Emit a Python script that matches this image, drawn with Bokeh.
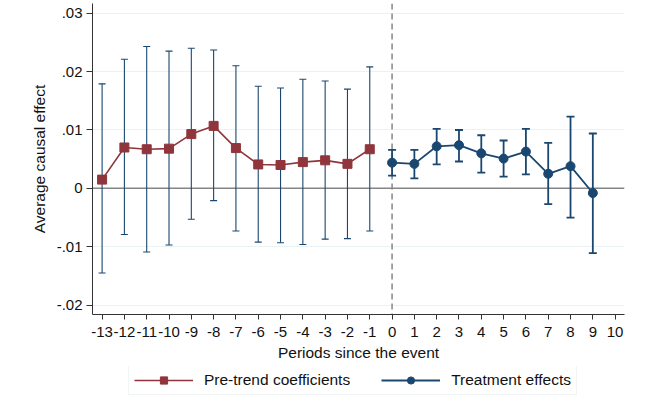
from bokeh.plotting import figure
from bokeh.layouts import column
from bokeh.models import (ColumnDataSource, Whisker, TeeHead, Span, FixedTicker,
                          Legend, LegendItem, Range1d)
from bokeh.embed import file_html
from bokeh.resources import INLINE

# ---- data ----
pre_periods = [-13, -12, -11, -10, -9, -8, -7, -6, -5, -4, -3, -2, -1]
pre_coef = [0.0015, 0.0070, 0.0067, 0.0068, 0.0093, 0.0107, 0.0069,
            0.0041, 0.0040, 0.0045, 0.0048, 0.0042, 0.0067]
pre_upper = [0.0179, 0.0221, 0.0243, 0.0235, 0.0240, 0.0237, 0.0210,
             0.0175, 0.0172, 0.0187, 0.0184, 0.0170, 0.0208]
pre_lower = [-0.0145, -0.0079, -0.0109, -0.0097, -0.0053, -0.0021, -0.0073,
             -0.0092, -0.0093, -0.0096, -0.0087, -0.0086, -0.0073]

post_periods = [0, 1, 2, 3, 4, 5, 6, 7, 8, 9]
post_coef = [0.0044, 0.0042, 0.0072, 0.0074, 0.0060, 0.0051, 0.0063,
             0.0025, 0.0038, -0.0008]
post_upper = [0.0066, 0.0066, 0.0102, 0.0100, 0.0091, 0.0082, 0.0102,
              0.0078, 0.0123, 0.0094]
post_lower = [0.0022, 0.0017, 0.0041, 0.0046, 0.0027, 0.0020, 0.0024,
              -0.0027, -0.0050, -0.0111]

x_ticks = list(range(-13, 11))
x_tick_labels = [str(t) for t in x_ticks]
y_ticks = [-0.02, -0.01, 0.0, 0.01, 0.02, 0.03]
y_tick_labels = ["-.02", "-.01", "0", ".01", ".02", ".03"]
series_names = ["Pre-trend coefficients", "Treatment effects"]

RED = "#90353B"
NAVY = "#1A476F"
FONT = "Liberation Sans"

pre_src = ColumnDataSource(dict(x=pre_periods, y=pre_coef, upper=pre_upper, lower=pre_lower))
post_src = ColumnDataSource(dict(x=post_periods, y=post_coef, upper=post_upper, lower=post_lower))

p = figure(width=642, height=366, output_backend="svg", toolbar_location=None,
           x_range=Range1d(-13.43, 10.42), y_range=Range1d(-0.0216, 0.03166),
           min_border_left=92, min_border_right=18, min_border_top=3,
           min_border_bottom=52)
p.outline_line_color = None
p.background_fill_color = "white"
p.border_fill_color = "white"

# grid
p.xgrid.grid_line_color = None
p.ygrid.grid_line_color = "#EAF2F3"
p.ygrid.grid_line_width = 1
p.ygrid.ticker = FixedTicker(ticks=[t for t in y_ticks if t != 0])

# reference lines
zero = Span(location=0, dimension="width", line_color="#858585", line_width=1.5, level="underlay")
event = Span(location=0, dimension="height", line_color="#858585", line_width=1.5,
             line_dash="6 4", level="underlay")
p.add_layout(zero)
p.add_layout(event)

# error bars
w_pre = Whisker(base="x", upper="upper", lower="lower", source=pre_src,
                line_color=NAVY, line_width=1.1, level="underlay",
                upper_head=TeeHead(size=7, line_color=NAVY, line_width=1.1),
                lower_head=TeeHead(size=7, line_color=NAVY, line_width=1.1))
w_post = Whisker(base="x", upper="upper", lower="lower", source=post_src,
                 line_color=NAVY, line_width=1.8, level="underlay",
                 upper_head=TeeHead(size=8, line_color=NAVY, line_width=1.8),
                 lower_head=TeeHead(size=8, line_color=NAVY, line_width=1.8))
p.add_layout(w_pre)
p.add_layout(w_post)

# series
p.line("x", "y", source=pre_src, line_color=RED, line_width=1.6)
p.scatter("x", "y", source=pre_src, marker="square", size=9,
          fill_color=RED, line_color=RED)
p.line("x", "y", source=post_src, line_color=NAVY, line_width=1.8)
p.scatter("x", "y", source=post_src, marker="circle", size=9,
          fill_color=NAVY, line_color=NAVY)

# axes
p.xaxis.ticker = FixedTicker(ticks=x_ticks)
p.xaxis.major_label_overrides = {t: s for t, s in zip(x_ticks, x_tick_labels)}
p.yaxis.ticker = FixedTicker(ticks=y_ticks)
p.yaxis.major_label_overrides = {t: s for t, s in zip(y_ticks, y_tick_labels)}
p.xaxis.axis_label = "Periods since the event"
p.yaxis.axis_label = "Average causal effect"
for ax in (p.xaxis[0], p.yaxis[0]):
    ax.axis_line_color = "#333333"
    ax.axis_line_width = 1
    ax.major_tick_line_color = "#333333"
    ax.major_tick_in = 0
    ax.minor_tick_line_color = None
    ax.major_label_text_font = FONT
    ax.major_label_text_font_size = "15px"
    ax.major_label_text_color = "#111111"
    ax.axis_label_text_font = FONT
    ax.axis_label_text_font_size = "15.5px"
    ax.axis_label_text_font_style = "normal"
    ax.axis_label_text_color = "#111111"
p.yaxis.major_tick_out = 6
p.yaxis.major_label_standoff = 4
p.yaxis.axis_label_standoff = 6
p.xaxis.major_tick_out = 5
p.xaxis.major_label_standoff = 7
p.xaxis.axis_label_standoff = 4

# legend strip (separate small figure below the plot; its ranges keep the
# series themselves out of view so only the legend keys are drawn)
leg = figure(width=642, height=30, output_backend="svg", toolbar_location=None,
             x_range=Range1d(100, 101), y_range=Range1d(100, 101),
             min_border_left=92, min_border_right=18, min_border_top=0, min_border_bottom=0)
leg.axis.visible = False
leg.grid.visible = False
leg.outline_line_color = None
kl1 = leg.line("x", "y", source=pre_src, line_color=RED, line_width=1.6)
km1 = leg.scatter("x", "y", source=pre_src, marker="square", size=9, fill_color=RED, line_color=RED)
kl2 = leg.line("x", "y", source=post_src, line_color=NAVY, line_width=1.8)
km2 = leg.scatter("x", "y", source=post_src, marker="circle", size=9, fill_color=NAVY, line_color=NAVY)

legend = Legend(items=[LegendItem(label=series_names[0], renderers=[kl1, km1]),
                       LegendItem(label=series_names[1], renderers=[kl2, km2])],
                location=(36, 1), orientation="horizontal",
                glyph_width=59, glyph_height=18, label_height=18,
                label_standoff=11, spacing=31, padding=5, margin=0,
                label_text_font=FONT, label_text_font_size="15.5px",
                label_text_color="#111111",
                border_line_color="#E3ECEC", border_line_width=1,
                background_fill_color="white", background_fill_alpha=1)
leg.add_layout(legend, "center")

layout = column(p, leg, spacing=0)
open("out.html", "w").write(file_html(layout, INLINE))
